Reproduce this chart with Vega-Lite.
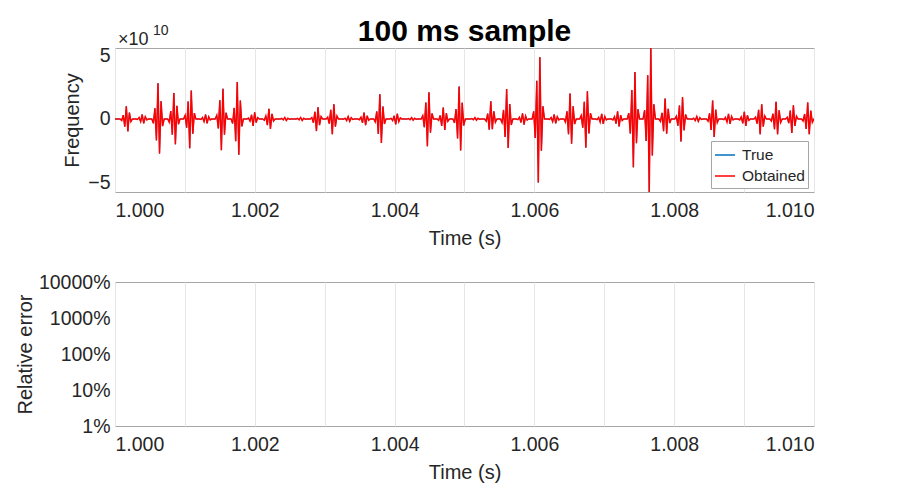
{
  "$schema": "https://vega.github.io/schema/vega-lite/v6.json",
  "background": "white",
  "padding": {"left": 14, "top": 16, "right": 60, "bottom": 10},
  "config": {
    "font": "Liberation Sans",
    "view": {"stroke": "#a6a6a6", "strokeWidth": 1},
    "axis": {
      "labelFontSize": 19.5, "titleFontSize": 20, "labelColor": "#262626", "titleColor": "#262626",
      "titleFontWeight": "normal", "domain": false, "ticks": false, "gridColor": "#e6e6e6"
    },
    "axisX": {"labelPadding": 9, "titlePadding": 9},
    "axisY": {"labelPadding": 5}
  },
  "spacing": 22,
  "resolve": {"scale": {"color": "independent"}, "legend": {"color": "independent"}},
  "vconcat": [
    {
      "width": 699,
      "height": 144,
      "title": {"text": "100 ms sample", "fontSize": 30, "fontWeight": "bold", "color": "black", "offset": -23},
      "data": {"values": [
        {"t":1.0,"v":0},
        {"t":1.000074,"v":0},{"t":1.000096,"v":-0.12},{"t":1.000118,"v":0.3},{"t":1.00014,"v":-0.6},{"t":1.000162,"v":1},{"t":1.000184,"v":-0.97},{"t":1.000206,"v":0.5},{"t":1.000228,"v":-0.2},{"t":1.00025,"v":0},
        {"t":1.000301,"v":0},{"t":1.000323,"v":-0.04},{"t":1.000345,"v":0.11},{"t":1.000367,"v":-0.21},{"t":1.000389,"v":0.35},{"t":1.000411,"v":-0.34},{"t":1.000433,"v":0.18},{"t":1.000455,"v":-0.07},{"t":1.000477,"v":0},
        {"t":1.000527,"v":0},{"t":1.000549,"v":-0.34},{"t":1.000571,"v":0.84},{"t":1.000593,"v":-1.68},{"t":1.000615,"v":2.8},{"t":1.000637,"v":-2.72},{"t":1.000659,"v":1.4},{"t":1.000681,"v":-0.56},{"t":1.000703,"v":0},
        {"t":1.000754,"v":0},{"t":1.000776,"v":-0.25},{"t":1.000798,"v":0.62},{"t":1.00082,"v":-1.23},{"t":1.000842,"v":2.05},{"t":1.000864,"v":-1.99},{"t":1.000886,"v":1.03},{"t":1.000908,"v":-0.41},{"t":1.00093,"v":0},
        {"t":1.000981,"v":0},{"t":1.001003,"v":0.28},{"t":1.001025,"v":-0.69},{"t":1.001047,"v":1.38},{"t":1.001069,"v":-2.3},{"t":1.001091,"v":2.23},{"t":1.001113,"v":-1.15},{"t":1.001135,"v":0.46},{"t":1.001157,"v":0},
        {"t":1.001208,"v":0},{"t":1.00123,"v":-0.04},{"t":1.001252,"v":0.11},{"t":1.001274,"v":-0.21},{"t":1.001296,"v":0.35},{"t":1.001318,"v":-0.34},{"t":1.00134,"v":0.18},{"t":1.001362,"v":-0.07},{"t":1.001384,"v":0},
        {"t":1.001434,"v":0},{"t":1.001456,"v":0.29},{"t":1.001478,"v":-0.74},{"t":1.0015,"v":1.47},{"t":1.001522,"v":-2.45},{"t":1.001544,"v":2.38},{"t":1.001566,"v":-1.23},{"t":1.001588,"v":0.49},{"t":1.00161,"v":0},
        {"t":1.001661,"v":0},{"t":1.001683,"v":-0.35},{"t":1.001705,"v":0.87},{"t":1.001727,"v":-1.74},{"t":1.001749,"v":2.9},{"t":1.001771,"v":-2.81},{"t":1.001793,"v":1.45},{"t":1.001815,"v":-0.58},{"t":1.001837,"v":0},
        {"t":1.001888,"v":0},{"t":1.00191,"v":0.07},{"t":1.001932,"v":-0.17},{"t":1.001954,"v":0.33},{"t":1.001976,"v":-0.55},{"t":1.001998,"v":0.53},{"t":1.00202,"v":-0.28},{"t":1.002042,"v":0.11},{"t":1.002064,"v":0},
        {"t":1.002114,"v":0},{"t":1.002136,"v":-0.1},{"t":1.002158,"v":0.24},{"t":1.00218,"v":-0.48},{"t":1.002202,"v":0.8},{"t":1.002224,"v":-0.78},{"t":1.002246,"v":0.4},{"t":1.002268,"v":-0.16},{"t":1.00229,"v":0},
        {"t":1.002341,"v":0},{"t":1.002363,"v":-0.01},{"t":1.002385,"v":0.04},{"t":1.002407,"v":-0.07},{"t":1.002429,"v":0.12},{"t":1.002451,"v":-0.12},{"t":1.002473,"v":0.06},{"t":1.002495,"v":-0.02},{"t":1.002517,"v":0},
        {"t":1.002568,"v":0},{"t":1.00259,"v":-0.01},{"t":1.002612,"v":0.04},{"t":1.002634,"v":-0.07},{"t":1.002656,"v":0.12},{"t":1.002678,"v":-0.12},{"t":1.0027,"v":0.06},{"t":1.002722,"v":-0.02},{"t":1.002744,"v":0},
        {"t":1.002794,"v":0},{"t":1.002816,"v":0.11},{"t":1.002838,"v":-0.29},{"t":1.00286,"v":0.57},{"t":1.002882,"v":-0.95},{"t":1.002904,"v":0.92},{"t":1.002926,"v":-0.48},{"t":1.002948,"v":0.19},{"t":1.00297,"v":0},
        {"t":1.003021,"v":0},{"t":1.003043,"v":0.14},{"t":1.003065,"v":-0.36},{"t":1.003087,"v":0.72},{"t":1.003109,"v":-1.2},{"t":1.003131,"v":1.16},{"t":1.003153,"v":-0.6},{"t":1.003175,"v":0.24},{"t":1.003197,"v":0},
        {"t":1.003248,"v":0},{"t":1.00327,"v":-0.02},{"t":1.003292,"v":0.06},{"t":1.003314,"v":-0.12},{"t":1.003336,"v":0.2},{"t":1.003358,"v":-0.19},{"t":1.00338,"v":0.1},{"t":1.003402,"v":-0.04},{"t":1.003424,"v":0},
        {"t":1.003475,"v":0},{"t":1.003497,"v":-0.06},{"t":1.003519,"v":0.15},{"t":1.003541,"v":-0.3},{"t":1.003563,"v":0.5},{"t":1.003585,"v":-0.49},{"t":1.003607,"v":0.25},{"t":1.003629,"v":-0.1},{"t":1.003651,"v":0},
        {"t":1.003701,"v":0},{"t":1.003723,"v":-0.23},{"t":1.003745,"v":0.59},{"t":1.003767,"v":-1.17},{"t":1.003789,"v":1.95},{"t":1.003811,"v":-1.89},{"t":1.003833,"v":0.98},{"t":1.003855,"v":-0.39},{"t":1.003877,"v":0},
        {"t":1.003928,"v":0},{"t":1.00395,"v":0.05},{"t":1.003972,"v":-0.13},{"t":1.003994,"v":0.25},{"t":1.004016,"v":-0.42},{"t":1.004038,"v":0.41},{"t":1.00406,"v":-0.21},{"t":1.004082,"v":0.08},{"t":1.004104,"v":0},
        {"t":1.004155,"v":0},{"t":1.004177,"v":-0.01},{"t":1.004199,"v":0.03},{"t":1.004221,"v":-0.06},{"t":1.004243,"v":0.1},{"t":1.004265,"v":-0.1},{"t":1.004287,"v":0.05},{"t":1.004309,"v":-0.02},{"t":1.004331,"v":0},
        {"t":1.004381,"v":0},{"t":1.004403,"v":0.26},{"t":1.004425,"v":-0.65},{"t":1.004447,"v":1.29},{"t":1.004469,"v":-2.15},{"t":1.004491,"v":2.09},{"t":1.004513,"v":-1.08},{"t":1.004535,"v":0.43},{"t":1.004557,"v":0},
        {"t":1.004608,"v":0},{"t":1.00463,"v":-0.11},{"t":1.004652,"v":0.27},{"t":1.004674,"v":-0.54},{"t":1.004696,"v":0.9},{"t":1.004718,"v":-0.87},{"t":1.00474,"v":0.45},{"t":1.004762,"v":-0.18},{"t":1.004784,"v":0},
        {"t":1.004835,"v":0},{"t":1.004857,"v":-0.31},{"t":1.004879,"v":0.77},{"t":1.004901,"v":-1.53},{"t":1.004923,"v":2.55},{"t":1.004945,"v":-2.47},{"t":1.004967,"v":1.28},{"t":1.004989,"v":-0.51},{"t":1.005011,"v":0},
        {"t":1.005061,"v":0},{"t":1.005083,"v":-0.01},{"t":1.005105,"v":0.03},{"t":1.005127,"v":-0.06},{"t":1.005149,"v":0.1},{"t":1.005171,"v":-0.1},{"t":1.005193,"v":0.05},{"t":1.005215,"v":-0.02},{"t":1.005237,"v":0},
        {"t":1.005288,"v":0},{"t":1.00531,"v":-0.17},{"t":1.005332,"v":0.42},{"t":1.005354,"v":-0.84},{"t":1.005376,"v":1.4},{"t":1.005398,"v":-0.8},{"t":1.00542,"v":0.6},{"t":1.005442,"v":-0.25},{"t":1.005464,"v":0},
        {"t":1.005515,"v":0},{"t":1.005537,"v":-0.28},{"t":1.005559,"v":0.71},{"t":1.005581,"v":-1.41},{"t":1.005603,"v":2.35},{"t":1.005625,"v":-2.28},{"t":1.005647,"v":1.18},{"t":1.005669,"v":-0.47},{"t":1.005691,"v":0},
        {"t":1.005742,"v":0},{"t":1.005764,"v":-0.05},{"t":1.005786,"v":0.14},{"t":1.005808,"v":-0.27},{"t":1.00583,"v":0.45},{"t":1.005852,"v":-0.44},{"t":1.005874,"v":0.23},{"t":1.005896,"v":-0.09},{"t":1.005918,"v":0},
        {"t":1.005968,"v":0},{"t":1.00599,"v":0.6},{"t":1.006012,"v":-1.5},{"t":1.006034,"v":3},{"t":1.006056,"v":-5},{"t":1.006078,"v":4.85},{"t":1.0061,"v":-2.5},{"t":1.006122,"v":1},{"t":1.006144,"v":0},
        {"t":1.006195,"v":0},{"t":1.006217,"v":-0.04},{"t":1.006239,"v":0.11},{"t":1.006261,"v":-0.21},{"t":1.006283,"v":0.35},{"t":1.006305,"v":-0.34},{"t":1.006327,"v":0.18},{"t":1.006349,"v":-0.07},{"t":1.006371,"v":0},
        {"t":1.006422,"v":0},{"t":1.006444,"v":-0.24},{"t":1.006466,"v":0.6},{"t":1.006488,"v":-1.2},{"t":1.00651,"v":2},{"t":1.006532,"v":-1.94},{"t":1.006554,"v":1},{"t":1.006576,"v":-0.4},{"t":1.006598,"v":0},
        {"t":1.006648,"v":0},{"t":1.00667,"v":0.27},{"t":1.006692,"v":-0.68},{"t":1.006714,"v":1.35},{"t":1.006736,"v":-2.25},{"t":1.006758,"v":2.18},{"t":1.00678,"v":-1.13},{"t":1.006802,"v":0.45},{"t":1.006824,"v":0},
        {"t":1.006875,"v":0},{"t":1.006897,"v":-0.05},{"t":1.006919,"v":0.12},{"t":1.006941,"v":-0.24},{"t":1.006963,"v":0.4},{"t":1.006985,"v":-0.39},{"t":1.007007,"v":0.2},{"t":1.007029,"v":-0.08},{"t":1.007051,"v":0},
        {"t":1.007102,"v":0},{"t":1.007124,"v":-0.07},{"t":1.007146,"v":0.18},{"t":1.007168,"v":-0.36},{"t":1.00719,"v":0.6},{"t":1.007212,"v":-0.58},{"t":1.007234,"v":0.3},{"t":1.007256,"v":-0.12},{"t":1.007278,"v":0},
        {"t":1.007328,"v":0},{"t":1.00735,"v":0.46},{"t":1.007372,"v":-1.14},{"t":1.007394,"v":2.28},{"t":1.007416,"v":-3.8},{"t":1.007438,"v":3.69},{"t":1.00746,"v":-1.9},{"t":1.007482,"v":0.76},{"t":1.007504,"v":0},
        {"t":1.007555,"v":0},{"t":1.007577,"v":0.69},{"t":1.007599,"v":-1.72},{"t":1.007621,"v":3.44},{"t":1.007643,"v":-5.74},{"t":1.007665,"v":5.57},{"t":1.007687,"v":-2.87},{"t":1.007709,"v":1.15},{"t":1.007731,"v":0},
        {"t":1.007782,"v":0},{"t":1.007804,"v":-0.19},{"t":1.007826,"v":0.48},{"t":1.007848,"v":-0.96},{"t":1.00787,"v":1.6},{"t":1.007892,"v":-1.15},{"t":1.007914,"v":0.8},{"t":1.007936,"v":-0.32},{"t":1.007958,"v":0},
        {"t":1.008009,"v":0},{"t":1.008031,"v":0.21},{"t":1.008053,"v":-0.53},{"t":1.008075,"v":1.06},{"t":1.008097,"v":-1.77},{"t":1.008119,"v":1.72},{"t":1.008141,"v":-0.89},{"t":1.008163,"v":0.35},{"t":1.008185,"v":0},
        {"t":1.008235,"v":0},{"t":1.008257,"v":-0.02},{"t":1.008279,"v":0.06},{"t":1.008301,"v":-0.12},{"t":1.008323,"v":0.2},{"t":1.008345,"v":-0.19},{"t":1.008367,"v":0.1},{"t":1.008389,"v":-0.04},{"t":1.008411,"v":0},
        {"t":1.008462,"v":0},{"t":1.008484,"v":-0.17},{"t":1.008506,"v":0.44},{"t":1.008528,"v":-0.87},{"t":1.00855,"v":1.45},{"t":1.008572,"v":-1.41},{"t":1.008594,"v":0.73},{"t":1.008616,"v":-0.29},{"t":1.008638,"v":0},
        {"t":1.008689,"v":0},{"t":1.008711,"v":-0.05},{"t":1.008733,"v":0.12},{"t":1.008755,"v":-0.24},{"t":1.008777,"v":0.4},{"t":1.008799,"v":-0.39},{"t":1.008821,"v":0.2},{"t":1.008843,"v":-0.08},{"t":1.008865,"v":0},
        {"t":1.008915,"v":0},{"t":1.008937,"v":-0.07},{"t":1.008959,"v":0.17},{"t":1.008981,"v":-0.34},{"t":1.009003,"v":0.57},{"t":1.009025,"v":-0.55},{"t":1.009047,"v":0.29},{"t":1.009069,"v":-0.11},{"t":1.009091,"v":0},
        {"t":1.009142,"v":0},{"t":1.009164,"v":0.14},{"t":1.009186,"v":-0.36},{"t":1.009208,"v":0.72},{"t":1.00923,"v":-1.2},{"t":1.009252,"v":1.16},{"t":1.009274,"v":-0.6},{"t":1.009296,"v":0.24},{"t":1.009318,"v":0},
        {"t":1.009369,"v":0},{"t":1.009391,"v":-0.16},{"t":1.009413,"v":0.41},{"t":1.009435,"v":-0.81},{"t":1.009457,"v":1.35},{"t":1.009479,"v":-1.2},{"t":1.009501,"v":0.68},{"t":1.009523,"v":-0.27},{"t":1.009545,"v":0},
        {"t":1.009595,"v":0},{"t":1.009617,"v":0.13},{"t":1.009639,"v":-0.33},{"t":1.009661,"v":0.66},{"t":1.009683,"v":-1.1},{"t":1.009705,"v":1.07},{"t":1.009727,"v":-0.55},{"t":1.009749,"v":0.22},{"t":1.009771,"v":0},
        {"t":1.009822,"v":0},{"t":1.009844,"v":-0.16},{"t":1.009866,"v":0.39},{"t":1.009888,"v":-0.78},{"t":1.00991,"v":1.3},{"t":1.009932,"v":-1.2},{"t":1.009954,"v":0.65},{"t":1.009976,"v":-0.26},{"t":1.009998,"v":0},
        {"t":1.01,"v":0}
      ]},
      "layer": [
        {
          "mark": {"type": "line", "strokeWidth": 0.9, "clip": true},
          "encoding": {
            "x": {
              "field": "t", "type": "quantitative",
              "scale": {"domain": [1.0, 1.01], "nice": false, "zero": false},
              "axis": {
                "title": "Time (s)", "grid": true,
                "values": [1.0, 1.001, 1.002, 1.003, 1.004, 1.005, 1.006, 1.007, 1.008, 1.009, 1.01],
                "labelExpr": "round((datum.value - 1) * 1000) % 2 == 0 ? format(datum.value, '.3f') : ''"
              }
            },
            "y": {
              "field": "v", "type": "quantitative",
              "scale": {"domain": [-5.74, 5.58], "nice": false, "zero": false},
              "axis": {"title": "Frequency", "values": [-5, 0, 5], "grid": false, "titlePadding": 5}
            },
            "color": {
              "datum": "True",
              "scale": {"domain": ["True", "Obtained"], "range": ["#0072BD", "#FF0000"]},
              "legend": {
                "title": null, "orient": "none", "legendX": 596, "legendY": 93,
                "labelFontSize": 15.5, "labelColor": "#262626", "labelOffset": 6,
                "symbolType": "stroke", "symbolSize": 400, "symbolStrokeWidth": 1.5,
                "strokeColor": "#a6a6a6", "fillColor": "white", "padding": 3, "rowPadding": 1
              }
            }
          }
        },
        {
          "mark": {"type": "line", "strokeWidth": 1.5, "clip": true},
          "encoding": {
            "x": {"field": "t", "type": "quantitative"},
            "y": {"field": "v", "type": "quantitative"},
            "color": {"datum": "Obtained"}
          }
        },
        {
          "data": {"values": [{"label": "×10"}]},
          "mark": {"type": "text", "align": "left", "baseline": "alphabetic", "dx": 3, "dy": -3, "fontSize": 18, "color": "#262626"},
          "encoding": {
            "x": {"datum": 1.0, "type": "quantitative"},
            "y": {"datum": 5.58, "type": "quantitative"},
            "text": {"field": "label"}
          }
        },
        {
          "data": {"values": [{"label": "10"}]},
          "mark": {"type": "text", "align": "left", "baseline": "alphabetic", "dx": 38, "dy": -13, "fontSize": 14, "color": "#262626"},
          "encoding": {
            "x": {"datum": 1.0, "type": "quantitative"},
            "y": {"datum": 5.58, "type": "quantitative"},
            "text": {"field": "label"}
          }
        }
      ]
    },
    {
      "width": 699,
      "height": 144,
      "data": {"values": [{"t": 1.0, "err": 0}, {"t": 1.01, "err": 0}]},
      "transform": [{"filter": "datum.err > 0"}],
      "mark": {"type": "line", "clip": true},
      "encoding": {
        "x": {
          "field": "t", "type": "quantitative",
          "scale": {"domain": [1.0, 1.01], "nice": false, "zero": false},
          "axis": {
            "title": "Time (s)", "grid": true,
            "values": [1.0, 1.001, 1.002, 1.003, 1.004, 1.005, 1.006, 1.007, 1.008, 1.009, 1.01],
            "labelExpr": "round((datum.value - 1) * 1000) % 2 == 0 ? format(datum.value, '.3f') : ''"
          }
        },
        "y": {
          "field": "err", "type": "quantitative",
          "scale": {"type": "log", "domain": [0.01, 100]},
          "axis": {"title": "Relative error", "values": [0.01, 0.1, 1, 10, 100], "format": ".0%", "grid": false, "titlePadding": 3}
        }
      }
    }
  ]
}
